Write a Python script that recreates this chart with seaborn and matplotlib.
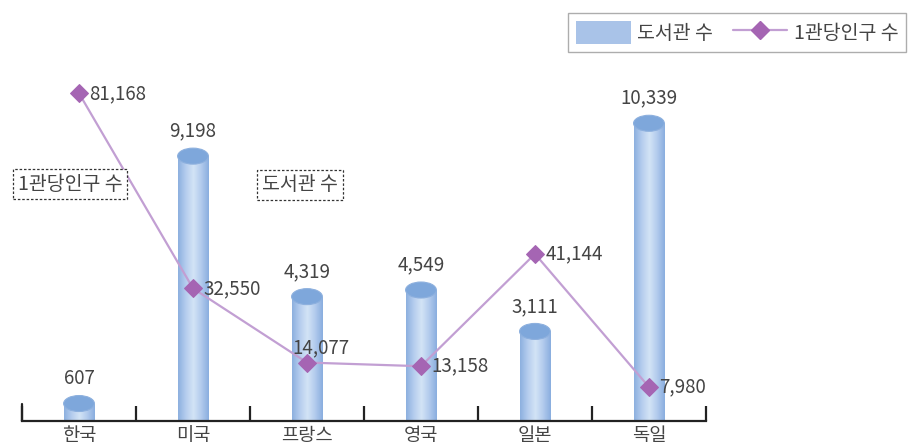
import numpy as np
import matplotlib
matplotlib.use("Agg")
import matplotlib.pyplot as plt
from matplotlib.patches import Ellipse, Patch
from matplotlib.lines import Line2D
from matplotlib.colors import LinearSegmentedColormap
import seaborn as sns
import pandas as pd

# data
countries = ["한국", "미국", "프랑스", "영국", "일본", "독일"]
libraries = [607, 9198, 4319, 4549, 3111, 10339]
per_library = [81168, 32550, 14077, 13158, 41144, 7980]

sns.set_theme(style="white")
plt.rcParams['font.family'] = ['Noto Sans CJK KR', 'DejaVu Sans']

text_color = "#444444"
line_color = "#c29fd3"
marker_color = "#a565b3"

df = pd.DataFrame({"country": countries, "libraries": libraries,
                   "per_library": per_library})
df["pos"] = np.arange(len(df))

fig = plt.figure(figsize=(9.18, 4.46), dpi=100)
ax = fig.add_axes([0.024, 0.056, 0.745, 0.8094])

bar_w = 0.27
sns.barplot(data=df, x="pos", y="libraries", width=bar_w, color="#a9c3e8",
            ax=ax, native_scale=True, edgecolor="none")

ax.set_xlim(-0.5, 5.5)
ax.set_ylim(0, 12535)

# cylinder look: horizontal gradient + top ellipse
cyl = LinearSegmentedColormap.from_list(
    "cyl", ["#8db0df", "#b5cdee", "#d3e4f6", "#b3cbed", "#8aaedf"])
grad = np.linspace(0, 1, 64).reshape(1, -1)
px_per_unit = 361 / 12535
ell_h = 16 / px_per_unit
for p in ax.patches:
    x0, w, h = p.get_x(), p.get_width(), p.get_height()
    p.set_facecolor("none")
    im = ax.imshow(grad, cmap=cyl, aspect="auto",
                   extent=[x0, x0 + w, 0, h], zorder=2)
    im.set_clip_path(p)
    ax.add_patch(Ellipse((x0 + w / 2, h), w, ell_h, facecolor="#7ea7db",
                         edgecolor="#8db0de", lw=0.8, zorder=3))
    ax.text(x0 + w / 2, h + 25 / px_per_unit, f"{int(h):,}", ha="center",
            va="center", fontsize=13.5, color=text_color, zorder=4)
ax.set_xlim(-0.5, 5.5)
ax.set_ylim(0, 12535)

# axis styling
for s in ["top", "right", "left"]:
    ax.spines[s].set_visible(False)
ax.spines["bottom"].set_color("#222222")
ax.spines["bottom"].set_linewidth(1.6)
ax.set_xticks(df["pos"])
ax.set_xticklabels(countries, fontsize=13.5, color=text_color)
ax.tick_params(axis="x", which="major", length=0, pad=3)
ax.set_xticks(np.arange(-0.5, 6, 1), minor=True)
ax.tick_params(axis="x", which="minor", bottom=True, direction="in",
               length=11, width=1.6, color="#222222")
ax.plot([-0.5, -0.5], [0, 17 / px_per_unit], color="#222222", lw=1.6,
        clip_on=False, zorder=5)
ax.set_yticks([])
ax.set_xlabel("")
ax.set_ylabel("")

# line on twin axis
ax2 = ax.twinx()
sns.lineplot(data=df, x="pos", y="per_library", ax=ax2, color=line_color,
             lw=1.6, marker="D", markersize=9, markerfacecolor=marker_color,
             markeredgecolor=marker_color)
ax2.set_ylim(-498, 89460)
ax2.set_xlim(-0.5, 5.5)
ax2.set_yticks([])
ax2.set_ylabel("")
for s in ["top", "right", "left", "bottom"]:
    ax2.spines[s].set_visible(False)

line_px = 361 / (89460 + 498)
offsets = {2: (-0.13, 15)}
for i, v in enumerate(per_library):
    dx, dy = offsets.get(i, (0.09, 0))
    ax2.text(i + dx, v + dy / line_px, f"{v:,}", ha="left", va="center",
             fontsize=13.5, color=text_color)

# legend
handles = [Patch(facecolor="#a9c3e8", edgecolor="none"),
           Line2D([0], [0], color=line_color, lw=1.6, marker="D",
                  markersize=9, markerfacecolor=marker_color,
                  markeredgecolor=marker_color)]
leg = fig.legend(handles, ["도서관 수", "1관당인구 수"], ncol=2,
                 loc="upper right", bbox_to_anchor=(0.998, 0.992),
                 fontsize=14, frameon=True, fancybox=False,
                 edgecolor="#999999", handlelength=2.8, handleheight=1.4,
                 columnspacing=1.0, handletextpad=0.35, borderpad=0.4,
                 labelcolor=text_color)
leg.get_frame().set_linewidth(1.0)

# dashed callout boxes
box = dict(boxstyle="square,pad=0.25", facecolor="white",
           edgecolor="#333333", linestyle=(0, (2, 1.5)), lw=0.9)
fig.text(70 / 918, 1 - 184 / 446, "1관당인구 수", ha="center", va="center",
         fontsize=14, color=text_color, bbox=box)
fig.text(300 / 918, 1 - 185 / 446, "도서관 수", ha="center", va="center",
         fontsize=14, color=text_color, bbox=box)

fig.savefig("out.png", dpi=100)
